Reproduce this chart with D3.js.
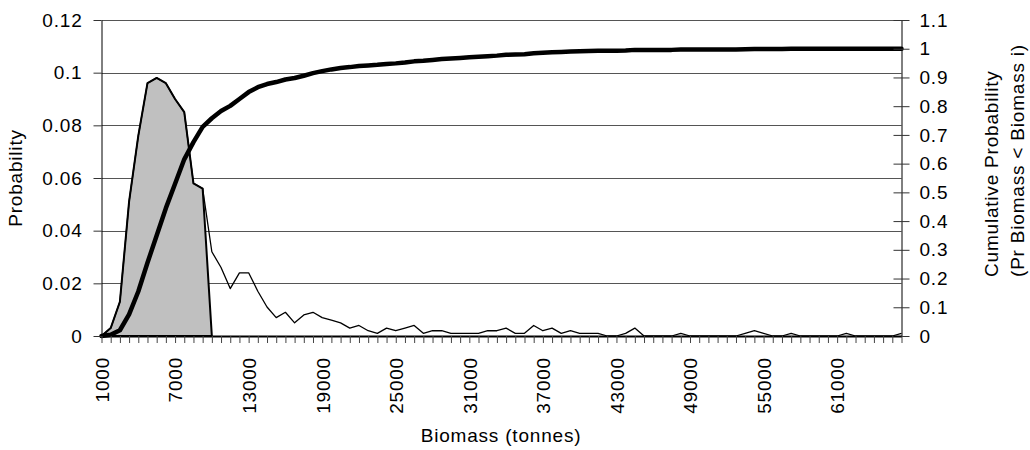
<!DOCTYPE html>
<html>
<head>
<meta charset="utf-8">
<script src="https://cdn.jsdelivr.net/npm/d3@7"></script>
<style>
  body { margin: 0; background: #fff; }
  text { font-family: "Liberation Sans", Arial, sans-serif; font-size: 19px; letter-spacing: 0.8px; fill: #000; }
</style>
</head>
<body>
<script>
// biomass bins (tonnes), 750 t wide
var categories = [1000,1750,2500,3250,4000,4750,5500,6250,7000,7750,8500,9250,10000,10750,11500,12250,
  13000,13750,14500,15250,16000,16750,17500,18250,19000,19750,20500,21250,22000,22750,23500,24250,
  25000,25750,26500,27250,28000,28750,29500,30250,31000,31750,32500,33250,34000,34750,35500,36250,
  37000,37750,38500,39250,40000,40750,41500,42250,43000,43750,44500,45250,46000,46750,47500,48250,
  49000,49750,50500,51250,52000,52750,53500,54250,55000,55750,56500,57250,58000,58750,59500,60250,
  61000,61750,62500,63250,64000,64750,65500,66250];

// probability per bin (thin line)
var probability = [0,0.003,0.013,0.051,0.076,0.096,0.098,0.096,0.090,0.085,0.058,0.056,
  0.032,0.026,0.018,0.024,0.024,0.017,0.011,0.007,0.009,0.005,0.008,0.009,0.007,0.006,
  0.005,0.003,0.004,0.002,0.001,0.003,0.002,0.003,0.004,0.001,0.002,0.002,0.001,0.001,
  0.001,0.001,0.002,0.002,0.003,0.001,0.001,0.004,0.002,0.003,0.001,0.002,0.001,0.001,
  0.001,0,0,0.001,0.003,0,0,0,0,0.001,0,0,0,0,0,0,0.001,0.002,0.001,0,0,0.001,
  0,0,0,0,0,0.001,0,0,0,0,0,0.001];

// shaded part of the distribution (first bins only)
var shaded = [0,0.003,0.013,0.051,0.076,0.096,0.098,0.096,0.090,0.085,0.058,0.056,0];

// cumulative probability (right axis)
var cumulative = [0,0.004,0.02,0.075,0.155,0.255,0.35,0.445,0.53,0.615,0.675,0.728,
  0.758,0.783,0.801,0.825,0.849,0.866,0.877,0.884,0.893,0.898,0.906,0.915,0.922,0.928,
  0.933,0.936,0.94,0.942,0.944,0.947,0.949,0.952,0.956,0.958,0.961,0.964,0.966,0.968,
  0.970,0.972,0.974,0.976,0.979,0.980,0.981,0.984,0.986,0.988,0.989,0.990,0.991,0.992,
  0.993,0.993,0.993,0.994,0.996,0.996,0.996,0.996,0.996,0.997,0.997,0.997,0.997,0.997,
  0.997,0.997,0.998,0.999,0.999,0.999,0.999,1,1,1,1,1,1,1,1,1,1,1,1,1];

var xLabels = ["1000","7000","13000","19000","25000","31000","37000","43000","49000","55000","61000"];
var leftTicks = [0,0.02,0.04,0.06,0.08,0.1,0.12];
var rightTicks = [0,0.1,0.2,0.3,0.4,0.5,0.6,0.7,0.8,0.9,1,1.1];

var width = 1030, height = 450;
var plotL = 101.5, plotR = 901.5, plotT = 20, plotB = 336; //plot box in px

var svg = d3.select("body").append("svg").attr("width", width).attr("height", height);

var x = d3.scalePoint().domain(categories).range([plotL, plotR]);
var yL = d3.scaleLinear().domain([0, 0.12]).range([plotB, plotT]);
var yR = d3.scaleLinear().domain([0, 1.1]).range([plotB, plotT]);

//gridlines
svg.append("g").selectAll("line").data(leftTicks.slice(1)).enter().append("line")
  .attr("x1", plotL).attr("x2", plotR)
  .attr("y1", function(d) {return Math.round(yL(d)) + 0.5;})
  .attr("y2", function(d) {return Math.round(yL(d)) + 0.5;})
  .attr("stroke", "#555").attr("stroke-width", 1);

//shaded area
var area = d3.area()
  .x(function(d, i) {return x(categories[i]);})
  .y0(plotB).y1(function(d) {return yL(d);});
svg.append("path").datum(shaded).attr("d", area)
  .attr("fill", "#c0c0c0").attr("stroke", "#000").attr("stroke-width", 2)
  .attr("stroke-linejoin", "round");

//thin probability line
var lineL = d3.line().x(function(d, i) {return x(categories[i]);}).y(function(d) {return yL(d);});
svg.append("path").datum(probability).attr("d", lineL)
  .attr("fill", "none").attr("stroke", "#000").attr("stroke-width", 1.3).attr("stroke-linejoin", "round");

//cumulative line
var lineR = d3.line().x(function(d, i) {return x(categories[i]);}).y(function(d) {return yR(d);});
svg.append("path").datum(cumulative).attr("d", lineR)
  .attr("fill", "none").attr("stroke", "#000").attr("stroke-width", 4.5)
  .attr("stroke-linejoin", "round").attr("stroke-linecap", "round");

//left axis
var gL = svg.append("g").attr("transform", "translate(" + plotL + ",0)")
  .call(d3.axisLeft(yL).tickValues(leftTicks).tickSize(8).tickSizeOuter(0).tickPadding(11)
    .tickFormat(function(d) {return String(+d.toFixed(2));}));
gL.attr("font-size", null).attr("font-family", null);
gL.select(".domain").attr("stroke", "#000");
gL.selectAll(".tick line").attr("stroke", "#333");

//right axis
var gR = svg.append("g").attr("transform", "translate(" + plotR + ",0)")
  .call(d3.axisRight(yR).tickValues(rightTicks).tickSize(8).tickSizeOuter(0).tickPadding(10)
    .tickFormat(function(d) {return String(+d.toFixed(1));}));
gR.attr("font-size", null).attr("font-family", null);
gR.select(".domain").attr("stroke", "#000");
gR.selectAll(".tick line").attr("x1", -8).attr("stroke", "#333");

//bottom axis
var gB = svg.append("g").attr("transform", "translate(0," + plotB + ")")
  .call(d3.axisBottom(x).tickSize(7).tickSizeOuter(0)
    .tickFormat(function(d) {return xLabels.indexOf(String(d)) >= 0 ? String(d) : "";}));
gB.attr("font-size", null).attr("font-family", null);
gB.select(".domain").attr("stroke", "#000").attr("stroke-width", 2);
gB.selectAll(".tick line").attr("stroke", "#444");
gB.selectAll(".tick text")
  .attr("transform", "rotate(-90)")
  .attr("text-anchor", "end")
  .attr("x", -21).attr("y", 6.8).attr("dy", null);

//axis titles
svg.append("text").attr("transform", "translate(22,178) rotate(-90)")
  .attr("text-anchor", "middle").text("Probability");
svg.append("text").attr("x", 501).attr("y", 442)
  .attr("text-anchor", "middle").text("Biomass (tonnes)");
svg.append("text").attr("transform", "translate(998,277) rotate(-90)")
  .attr("text-anchor", "start").text("Cumulative Probability");
svg.append("text").attr("transform", "translate(1024,277) rotate(-90)")
  .attr("text-anchor", "start").text("(Pr Biomass < Biomass i)");
</script>
</body>
</html>
